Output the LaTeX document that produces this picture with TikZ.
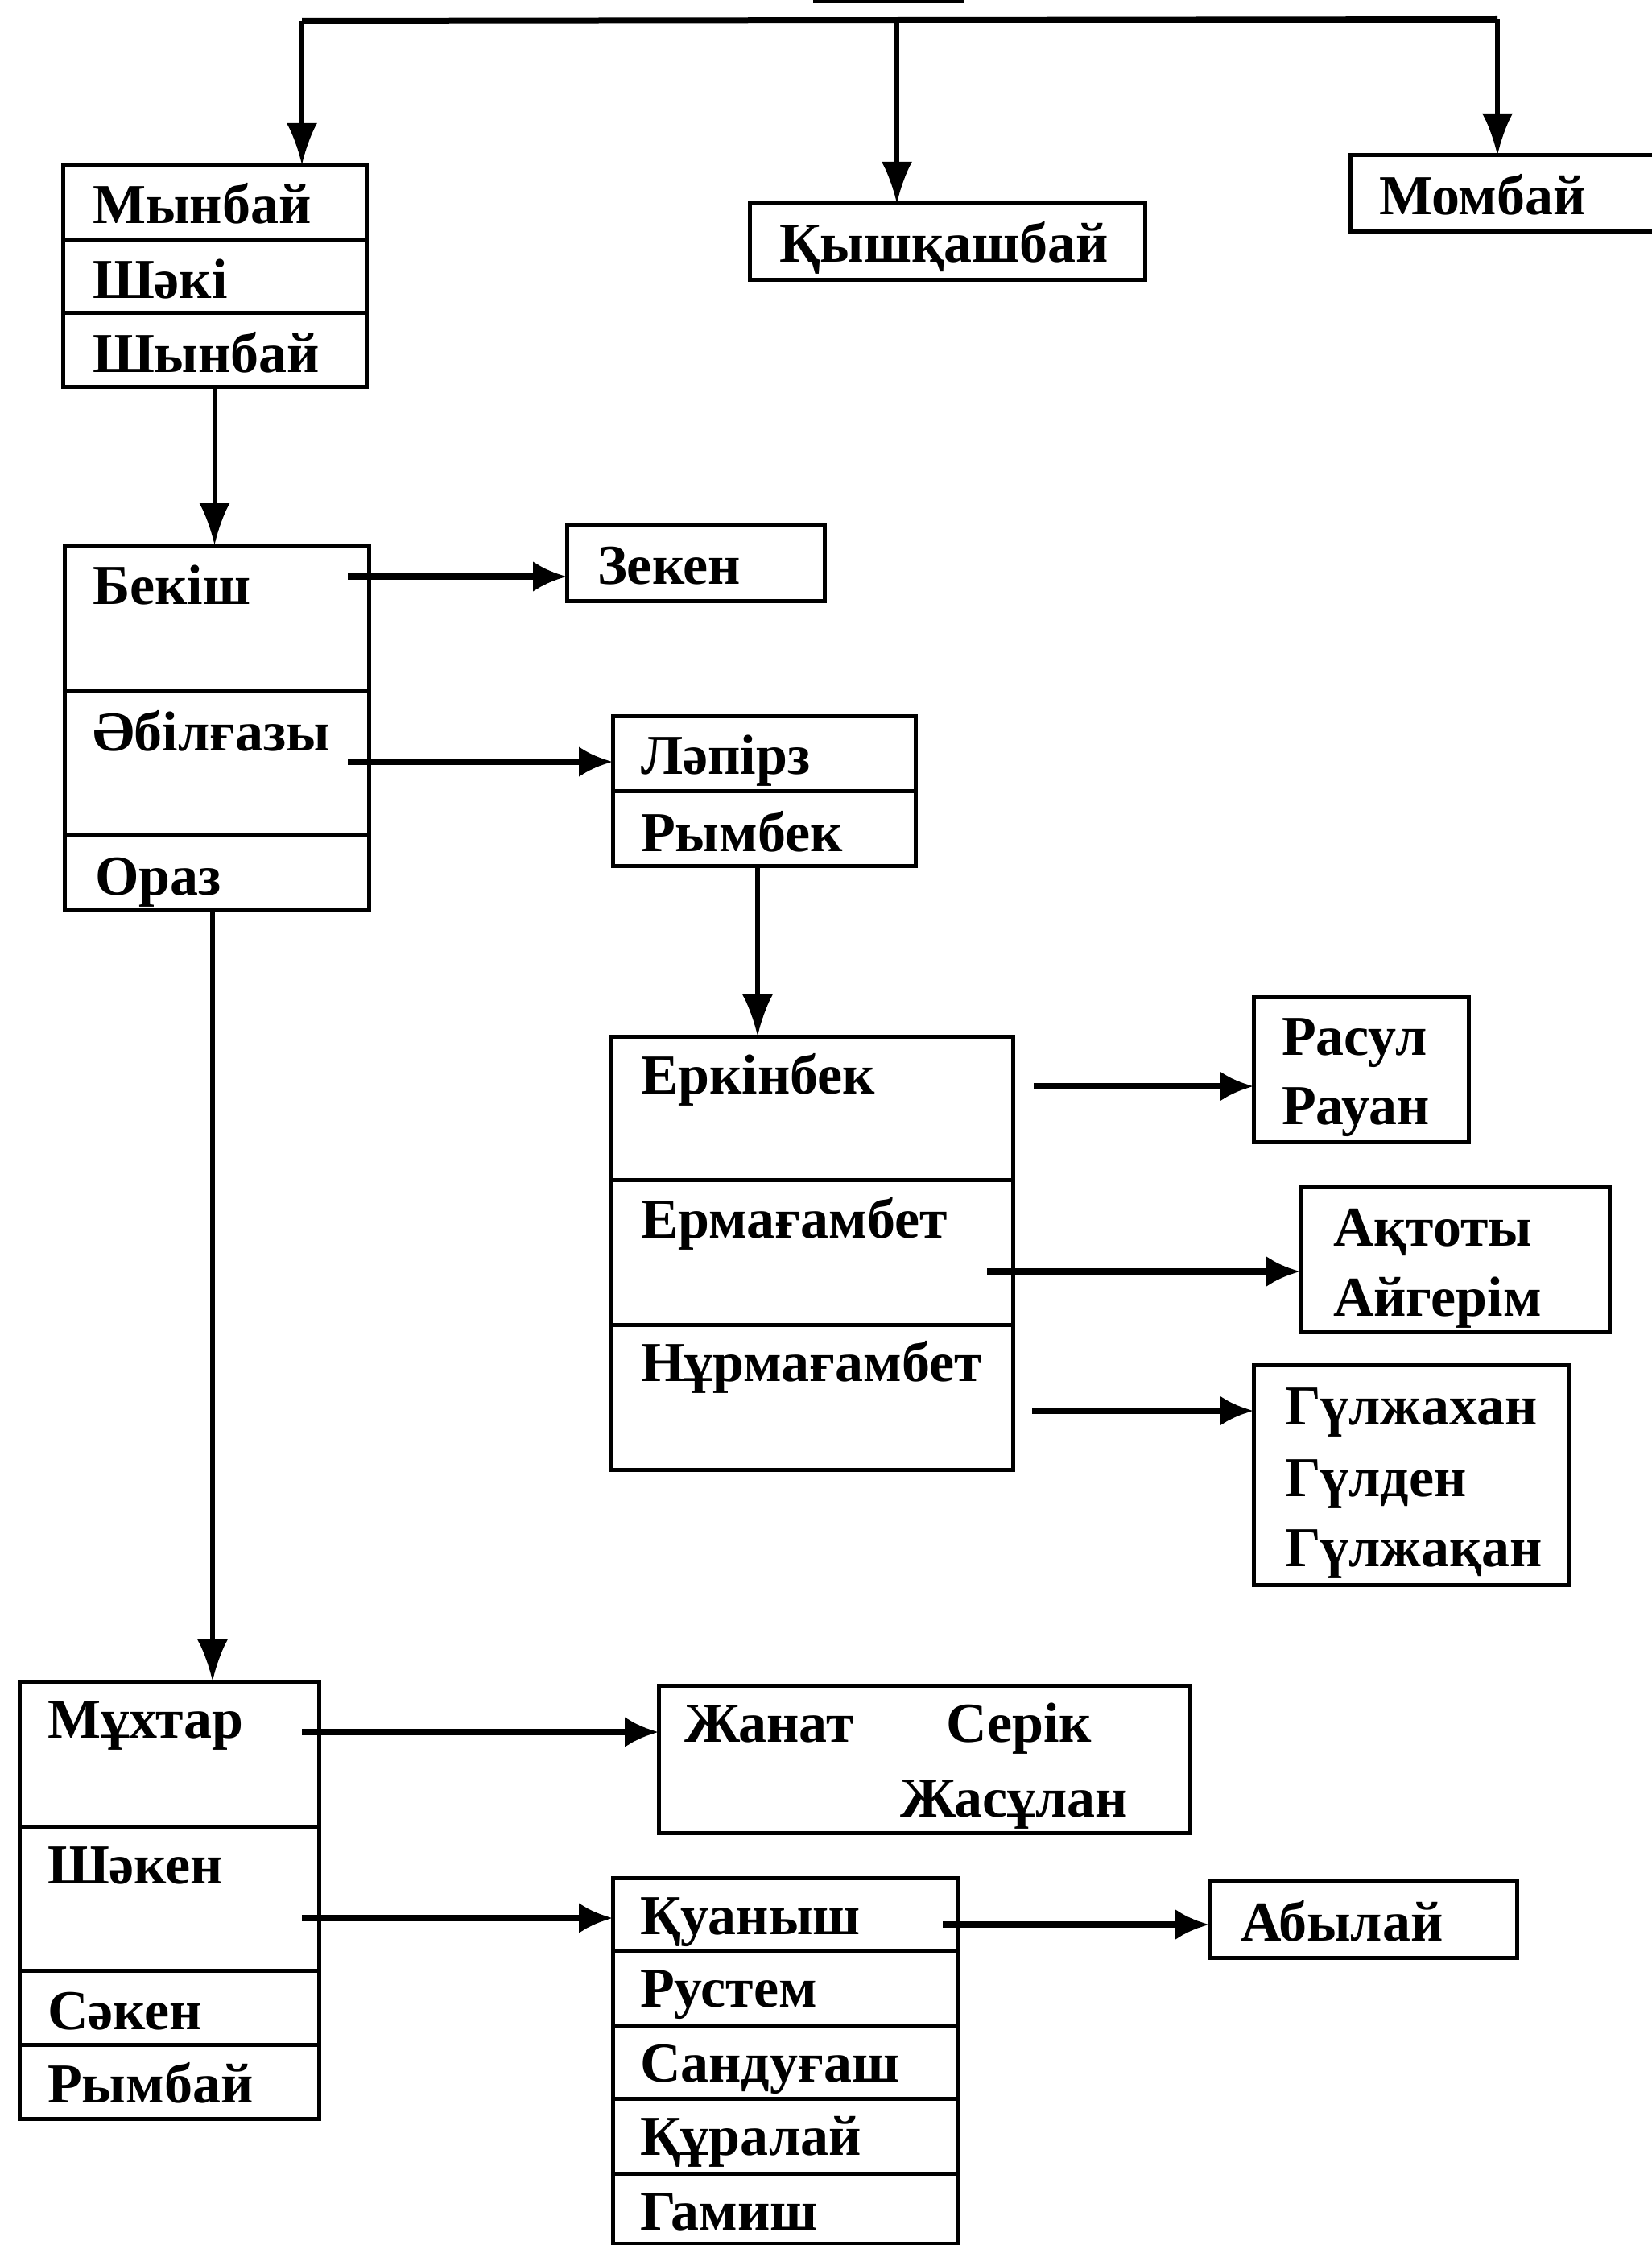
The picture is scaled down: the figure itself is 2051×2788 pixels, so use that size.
\documentclass[tikz,border=0pt]{standalone}
\usepackage{fontspec}
\setmainfont{Liberation Serif}
\usetikzlibrary{arrows.meta,calc}
\newcommand\mkbox[5]{\node[cell, minimum width={(#4-#2)*0.5pt}, minimum height={(#5-#3)*0.5pt}, anchor=north west] (#1) at (#2,#3) {};}
\begin{document}
\begin{tikzpicture}[x=0.5pt,y=-0.5pt,
  cell/.style={draw, line width=2.5pt, inner sep=0pt, outer sep=0pt},
  txt/.style={anchor=base west, inner sep=0pt, outer sep=0pt, font=\fontsize{35}{42}\selectfont\bfseries},
  conn/.style={line width=4pt},
  arr/.style={line width=3.6pt, -{Latex[length=21pt,width=19pt]}},
  varr/.style={line width=2.6pt, -{Latex[length=26pt,width=19pt]}}]
\useasboundingbox (0,0) rectangle (2051,2788);
% boxes
\mkbox{root}{1012}{-100}{1195}{2}
\mkbox{m1}{78}{205}{455}{297}
\mkbox{m2}{78}{297}{455}{388}
\mkbox{m3}{78}{388}{455}{480}
\mkbox{kysh}{931}{253}{1422}{347}
\mkbox{momb}{1677}{193}{2090}{287}
\mkbox{bek}{80}{677}{458}{858}
\mkbox{abil}{80}{858}{458}{1037}
\mkbox{oraz}{80}{1037}{458}{1130}
\mkbox{zek}{704}{652}{1024}{746}
\mkbox{lap}{761}{889}{1137}{982}
\mkbox{rym}{761}{982}{1137}{1075}
\mkbox{erk}{759}{1287}{1258}{1465}
\mkbox{erm}{759}{1465}{1258}{1645}
\mkbox{nur}{759}{1645}{1258}{1825}
\mkbox{ras}{1557}{1238}{1824}{1418}
\mkbox{akt}{1615}{1473}{1999}{1654}
\mkbox{gul}{1557}{1695}{1949}{1968}
\mkbox{mukh}{24}{2088}{396}{2269}
\mkbox{shak}{24}{2269}{396}{2447}
\mkbox{sak}{24}{2447}{396}{2539}
\mkbox{rymb}{24}{2539}{396}{2631}
\mkbox{zh}{818}{2093}{1478}{2276}
\mkbox{kua}{761}{2332}{1190}{2422}
\mkbox{rus}{761}{2422}{1190}{2515}
\mkbox{san}{761}{2515}{1190}{2606}
\mkbox{kur}{761}{2606}{1190}{2699}
\mkbox{gam}{761}{2699}{1190}{2786}
\mkbox{aby}{1502}{2336}{1884}{2431}
% texts
\node[txt] (tm1) at (115,278) {Мынбай};
\node[txt] (tm2) at (115,370) {Шәкі};
\node[txt] (tm3) at (115,462) {Шынбай};
\node[txt] (tkysh) at (968,325) {Қышқашбай};
\node[txt] (tmomb) at (1713,267) {Момбай};
\node[txt] (tbek) at (115,750) {Бекіш};
\node[txt] (tabil) at (115,932) {Әбілғазы};
\node[txt] (toraz) at (118,1111) {Ораз};
\node[txt] (tzek) at (742,725) {Зекен};
\node[txt] (tlap) at (796,961) {Ләпірз};
\node[txt] (trym) at (796,1057) {Рымбек};
\node[txt] (terk) at (796,1358) {Еркінбек};
\node[txt] (term) at (796,1537) {Ермағамбет};
\node[txt] (tnur) at (796,1715) {Нұрмағамбет};
\node[txt] (tras1) at (1592,1310) {Расул};
\node[txt] (tras2) at (1592,1396) {Рауан};
\node[txt] (takt1) at (1656,1547) {Ақтоты};
\node[txt] (takt2) at (1656,1634) {Айгерім};
\node[txt] (tgul1) at (1596,1769) {Гүлжахан};
\node[txt] (tgul2) at (1596,1858) {Гүлден};
\node[txt] (tgul3) at (1596,1945) {Гүлжақан};
\node[txt] (tmukh) at (59,2158) {Мұхтар};
\node[txt] (tshak) at (59,2339) {Шәкен};
\node[txt] (tsak) at (59,2520) {Сәкен};
\node[txt] (trymb) at (59,2611) {Рымбай};
\node[txt] (tzh1) at (850,2163) {Жанат};
\node[txt] (tzh2) at (1175,2163) {Серік};
\node[txt] (tzh3) at (1118,2256) {Жасұлан};
\node[txt] (tkua) at (795,2402) {Қуаныш};
\node[txt] (trus) at (795,2492) {Рустем};
\node[txt] (tsan) at (795,2585) {Сандуғаш};
\node[txt] (tkur) at (795,2676) {Құралай};
\node[txt] (tgam) at (795,2769) {Гамиш};
\node[txt] (taby) at (1541,2410) {Абылай};
% top bus
\coordinate (busL) at (375,26);
\coordinate (busM) at (1114,25);
\coordinate (busR) at (1860,24);
\draw[conn] (busL) -- (busR);
\draw[varr] (busL) -- (busL |- m1.north);
\draw[varr] (busM) -- (busM |- kysh.north);
\draw[varr] (busR) -- (busR |- momb.north);
% vertical connectors
\draw[varr] (m3.south) -- (m3.south |- bek.north);
\coordinate (vo) at (264,1130);
\draw[varr] (vo) -- (vo |- mukh.north);
\coordinate (vr) at (941,1075);
\draw[varr] (vr) -- (vr |- erk.north);
% horizontal arrows
\coordinate (s1) at (432,716);
\draw[arr] (s1) -- (s1 -| zek.west);
\coordinate (s2) at (432,946);
\draw[arr] (s2) -- (s2 -| lap.west);
\coordinate (s3) at (1284,1349);
\draw[arr] (s3) -- (s3 -| ras.west);
\coordinate (s4) at (1226,1579);
\draw[arr] (s4) -- (s4 -| akt.west);
\coordinate (s5) at (1282,1752);
\draw[arr] (s5) -- (s5 -| gul.west);
\coordinate (s6) at (375,2151);
\draw[arr] (s6) -- (s6 -| zh.west);
\coordinate (s7) at (375,2382);
\draw[arr] (s7) -- (s7 -| kua.west);
\coordinate (s8) at (1171,2390);
\draw[arr] (s8) -- (s8 -| aby.west);
\end{tikzpicture}
\end{document}
